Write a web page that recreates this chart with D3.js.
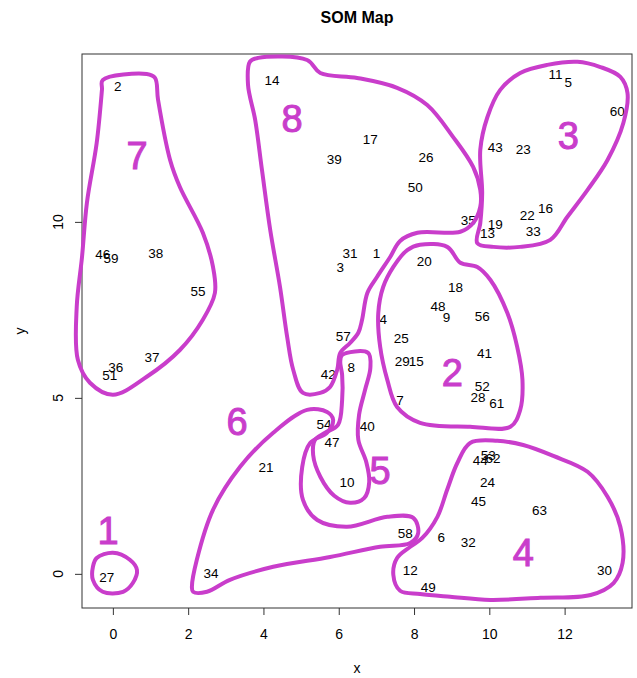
<!DOCTYPE html>
<html lang="en">
<meta charset="utf-8">
<head>
    <script src='https://d3js.org/d3.v7.min.js'></script>
    <style>
        body { margin: 0; background: white; }
        text { font-family: "Liberation Sans", Arial, sans-serif; }
    </style>
</head>
<body>
<script>
    // point labels and positions (data units)
    var pointLabels = [2, 14, 17, 39, 26, 50, 35, 13, 19, 11, 5, 60, 43, 23, 22, 16, 33,
        31, 1, 3, 20, 18, 48, 9, 56, 4, 25, 57, 29, 15, 41, 8, 42, 7, 52, 28, 61,
        46, 59, 38, 55, 36, 51, 37, 54, 47, 40, 21, 10, 58, 34, 27, 6, 32, 12, 49,
        53, 44, 62, 24, 45, 63, 30];
    var pointX = [0.13, 4.23, 6.84, 5.88, 8.32, 8.03, 9.44, 9.95, 10.16, 11.76, 12.1, 13.4, 10.16, 10.9, 11.01, 11.49, 11.17,
        6.3, 7.0, 6.04, 8.27, 9.1, 8.64, 8.86, 9.81, 7.18, 7.66, 6.12, 7.69, 8.06, 9.87, 6.33, 5.72, 7.63, 9.81, 9.7, 10.2,
        -0.27, -0.05, 1.14, 2.26, 0.08, -0.08, 1.04, 5.61, 5.82, 6.76, 4.07, 6.22, 7.77, 2.61, -0.16, 8.72, 9.44, 7.9, 8.38,
        9.97, 9.76, 10.1, 9.95, 9.71, 11.33, 13.06];
    var pointY = [13.84, 14.03, 12.36, 11.79, 11.85, 10.99, 10.06, 9.69, 9.94, 14.2, 13.98, 13.13, 12.13, 12.07, 10.2, 10.4, 9.72,
        9.12, 9.12, 8.72, 8.89, 8.15, 7.61, 7.3, 7.33, 7.22, 6.7, 6.76, 6.05, 6.05, 6.28, 5.88, 5.68, 4.94, 5.34, 5.03, 4.86,
        9.09, 8.98, 9.12, 8.04, 5.88, 5.63, 6.16, 4.26, 3.75, 4.18, 3.04, 2.59, 1.16, 0.03, -0.11, 1.05, 0.91, 0.11, -0.37,
        3.38, 3.24, 3.27, 2.61, 2.05, 1.82, 0.09];

    // hand drawn cluster outlines (data units)
    var outline1 = [[-0.43,0.45],[0,0.6],[0.45,0.4],[0.64,0.11],[0.53,-0.26],[0.27,-0.51],[-0.27,-0.51],[-0.53,-0.17],[-0.53,0.2]];
    var outline2 = [[8.16,9.35],[8.88,9.29],[9.23,8.84],[9.68,8.72],[10.03,8.35],[10.48,7.41],[10.74,6.45],[10.88,5.51],
        [10.82,4.66],[10.56,4.18],[9.49,4.18],[8.16,4.29],[7.55,4.74],[7.29,5.51],[7.1,6.45],[7.05,7.41],[7.18,8.15],[7.45,8.72],[7.82,9.2]];
    var outline3 = [[9.68,9.4],[9.76,9.97],[9.81,10.82],[9.76,12.05],[9.95,12.98],[10.29,13.75],[10.82,14.23],[11.54,14.46],
        [12.34,14.55],[12.95,14.4],[13.48,14.12],[13.67,13.66],[13.56,12.81],[13.14,11.76],[12.61,10.91],[12.07,10.14],
        [11.62,9.49],[10.82,9.29],[10.11,9.29]];
    var outline4 = [[9.49,3.72],[10.21,3.78],[10.9,3.66],[11.7,3.35],[12.61,2.9],[13.14,2.19],[13.48,1.34],[13.54,0.31],
        [13.3,-0.26],[12.69,-0.6],[11.36,-0.68],[10.03,-0.74],[8.96,-0.65],[8.16,-0.57],[7.63,-0.48],[7.45,-0.03],
        [7.55,0.45],[7.9,0.77],[8.22,1.02],[8.62,1.62],[8.88,2.39],[9.15,3.15]];
    var outline5 = [[6.09,6.22],[6.78,6.28],[6.84,5.85],[6.7,5.23],[6.54,4.52],[6.52,3.81],[6.73,3.18],[6.81,2.61],
        [6.68,2.16],[6.3,2.02],[5.88,2.22],[5.51,2.76],[5.32,3.38],[5.37,3.81],[5.64,4.01],[5.98,4.23],[6.09,4.94],
        [6.09,5.65],[6.04,6.02]];
    var outline6 = [[2.1,-0.37],[2.23,0.4],[2.66,1.82],[3.38,3.04],[4.26,4.01],[5.16,4.66],[5.69,4.6],[5.85,4.38],
        [5.69,4.01],[5.24,3.72],[5.03,3.04],[5.05,2.1],[5.43,1.53],[6.22,1.34],[7.29,1.62],[7.98,1.59],[8.11,1.16],
        [7.9,0.88],[7.1,0.77],[5.77,0.48],[4.26,0.2],[3.11,-0.17],[2.5,-0.51],[2.13,-0.51]];
    var outline7 = [[-0.27,14.03],[0.9,14.2],[1.12,14.09],[1.2,13.47],[1.52,11.76],[1.78,10.99],[2.39,9.69],[2.66,8.72],
        [2.71,7.98],[2.39,7.22],[1.78,6.36],[0.9,5.6],[0,5.09],[-0.61,5.43],[-0.93,6.08],[-0.96,7.59],[-0.82,9.0],
        [-0.69,10.54],[-0.43,12.24],[-0.29,13.75]];
    var outline8 = [[3.64,14.55],[3.86,14.66],[5.16,14.6],[5.51,14.23],[6.49,14.09],[7.55,13.81],[8.35,13.32],[9.04,12.41],
        [9.57,11.56],[9.76,10.91],[9.76,10.43],[9.57,9.97],[9.23,9.72],[8.09,9.69],[7.63,9.46],[7.37,9.01],[7.02,8.44],
        [6.76,7.98],[6.62,7.22],[6.52,6.85],[6.3,6.56],[6.04,6.28],[5.96,5.8],[5.77,5.31],[5.51,5.14],[5.05,5.14],
        [4.79,5.8],[4.63,6.73],[4.44,8.15],[4.18,9.77],[3.96,11.48],[3.78,12.9],[3.59,13.89]];

    var clusterIds = [1, 2, 3, 4, 5, 6, 7, 8];
    var clusterLabelX = [-0.13, 9.02, 12.1, 10.9, 7.1, 3.3, 0.64, 4.76];
    var clusterLabelY = [1.25, 5.74, 12.47, 0.6, 2.95, 4.32, 11.9, 12.95];
    var outlines = [outline1, outline2, outline3, outline4, outline5, outline6, outline7, outline8];

    var xTicks = [0, 2, 4, 6, 8, 10, 12];
    var yTicks = [0, 5, 10];

    var width = 637, height = 678;
    var plotLeft = 82, plotRight = 632, plotTop = 54, plotBottom = 608;
    var purple = "#c93dcb";

    var svg = d3.select("body")
        .append("svg")
        .attr("width", width)
        .attr("height", height);

    var x = d3.scaleLinear()
        .domain([-0.82, 13.79])
        .range([plotLeft, plotRight]);
    var y = d3.scaleLinear()
        .domain([-0.97, 14.77])
        .range([plotBottom, plotTop]);

    // title
    svg.append("text")
        .attr("x", (plotLeft + plotRight) / 2)
        .attr("y", 23)
        .attr("text-anchor", "middle")
        .style("font-size", "16px")
        .style("font-weight", "bold")
        .text("SOM Map");

    // x axis
    var xaxis = svg.append("g")
        .attr("transform", "translate(0," + plotBottom + ")")
        .call(d3.axisBottom(x).tickValues(xTicks).tickSize(7).tickPadding(14));
    xaxis.select(".domain").remove();
    xaxis.selectAll("text").style("font-size", "14px").style("font-family", "Liberation Sans, Arial, sans-serif");
    xaxis.selectAll("line").attr("stroke", "#333");

    // y axis, labels parallel to axis like R
    var yaxis = svg.append("g")
        .attr("transform", "translate(" + plotLeft + ",0)")
        .call(d3.axisLeft(y).tickValues(yTicks).tickSize(7).tickFormat(""));
    yaxis.select(".domain").remove();
    yaxis.selectAll("line").attr("stroke", "#333");
    svg.selectAll(".ylab")
        .data(yTicks)
        .enter()
        .append("text")
        .attr("class", "ylab")
        .attr("transform", function(d) { return "translate(58," + y(d) + ") rotate(-90)"; })
        .attr("text-anchor", "middle")
        .attr("dy", "0.35em")
        .style("font-size", "14px")
        .text(function(d) { return d; });

    // box
    svg.append("rect")
        .attr("x", plotLeft)
        .attr("y", plotTop)
        .attr("width", plotRight - plotLeft)
        .attr("height", plotBottom - plotTop)
        .attr("fill", "none")
        .attr("stroke", "#333")
        .attr("stroke-width", 1);

    svg.append("text")
        .attr("x", (plotLeft + plotRight) / 2)
        .attr("y", 668)
        .attr("text-anchor", "middle")
        .attr("dy", "0.35em")
        .style("font-size", "14px")
        .text("x");

    svg.append("text")
        .attr("transform", "translate(20," + (plotTop + plotBottom) / 2 + ") rotate(-90)")
        .attr("text-anchor", "middle")
        .attr("dy", "0.35em")
        .style("font-size", "14px")
        .text("y");

    // point labels
    svg.selectAll(".pt")
        .data(pointLabels)
        .enter()
        .append("text")
        .attr("class", "pt")
        .attr("x", function(d, i) { return x(pointX[i]); })
        .attr("y", function(d, i) { return y(pointY[i]); })
        .attr("text-anchor", "middle")
        .attr("dy", "0.35em")
        .style("font-size", "13.5px")
        .text(function(d) { return d; });

    // cluster outlines
    var line = d3.line()
        .x(function(d) { return x(d[0]); })
        .y(function(d) { return y(d[1]); })
        .curve(d3.curveCatmullRomClosed.alpha(0.5));

    svg.selectAll(".outline")
        .data(outlines)
        .enter()
        .append("path")
        .attr("class", "outline")
        .attr("d", line)
        .attr("fill", "none")
        .attr("stroke", purple)
        .attr("stroke-width", 4)
        .attr("stroke-linejoin", "round");

    svg.selectAll(".cl")
        .data(clusterIds)
        .enter()
        .append("text")
        .attr("class", "cl")
        .attr("x", function(d, i) { return x(clusterLabelX[i]); })
        .attr("y", function(d, i) { return y(clusterLabelY[i]); })
        .attr("text-anchor", "middle")
        .attr("dy", "0.36em")
        .style("font-size", "38px")
        .style("fill", purple)
        .style("stroke", purple)
        .style("stroke-width", 1)
        .text(function(d) { return d; });
</script>
</body>
</html>
